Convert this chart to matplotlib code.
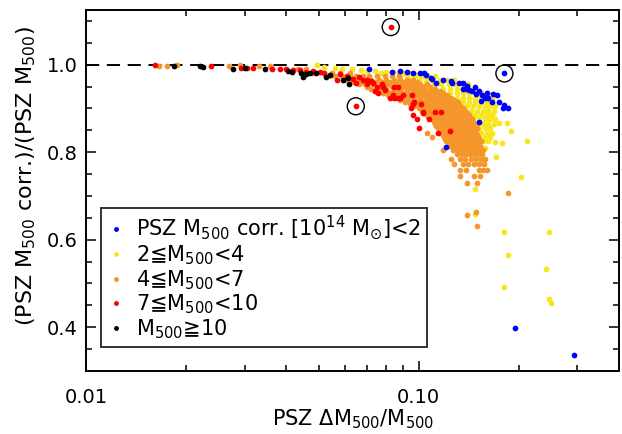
import matplotlib
matplotlib.use("Agg")
import matplotlib.pyplot as plt
from matplotlib.lines import Line2D
from matplotlib.ticker import FixedLocator, FixedFormatter, NullFormatter

plt.rcParams['font.family'] = ['DejaVu Sans']
plt.rcParams['mathtext.fontset'] = 'dejavusans'
plt.rcParams['lines.scale_dashes'] = False

# ---- data: (dM/M, corrected/uncorrected mass ratio) per mass bin ----
black_pts = [(0.0184, 0.996), (0.0220, 0.996), (0.0224, 0.995), (0.0276, 0.991), (0.0300, 0.993),
             (0.0345, 0.991), (0.0404, 0.986), (0.0415, 0.984), (0.0443, 0.982), (0.0449, 0.973),
             (0.0460, 0.978), (0.0471, 0.980), (0.0490, 0.980), (0.0526, 0.973), (0.0540, 0.977),
             (0.0592, 0.966), (0.0612, 0.970), (0.0617, 0.955)]

red_pts = [(0.0161, 1.000), (0.0237, 0.998), (0.0292, 0.993), (0.0305, 0.993), (0.0317, 0.993),
           (0.0362, 0.991), (0.0383, 0.990), (0.0400, 0.990), (0.0419, 0.989), (0.0440, 0.987),
           (0.0460, 0.984), (0.0480, 0.985), (0.0505, 0.984), (0.0520, 0.980), (0.0541, 0.977),
           (0.0567, 0.966), (0.0580, 0.978), (0.0608, 0.975), (0.0634, 0.968), (0.0650, 0.959),
           (0.0660, 0.972), (0.0680, 0.965), (0.0698, 0.964), (0.0700, 0.955), (0.0720, 0.962),
           (0.0728, 0.959), (0.0740, 0.939), (0.0750, 0.948), (0.0753, 0.936), (0.0775, 0.957),
           (0.0780, 0.948), (0.0790, 0.943), (0.0820, 0.925), (0.0837, 0.930), (0.0841, 0.925),
           (0.0842, 0.948), (0.0864, 0.925), (0.0865, 0.948), (0.0877, 0.923), (0.0895, 0.930),
           (0.0951, 0.900), (0.0953, 0.930), (0.0960, 0.884), (0.0960, 0.911), (0.0970, 0.914),
           (0.0986, 0.877), (0.1000, 0.855), (0.1014, 0.911), (0.1028, 0.891), (0.1030, 0.889),
           (0.1072, 0.877), (0.1120, 0.891), (0.1140, 0.843), (0.1170, 0.891), (0.1240, 0.848)]

blue_pts = [(0.0707, 0.991), (0.0832, 0.984), (0.0880, 0.985), (0.0920, 0.983), (0.0960, 0.980),
            (0.1006, 0.982), (0.1035, 0.982), (0.1050, 0.977), (0.1090, 0.970), (0.1100, 0.968),
            (0.1130, 0.959), (0.1180, 0.966), (0.1250, 0.962), (0.1260, 0.959), (0.1320, 0.959),
            (0.1360, 0.959), (0.1360, 0.945), (0.1390, 0.945), (0.1400, 0.952), (0.1420, 0.943),
            (0.1450, 0.940), (0.1480, 0.948), (0.1490, 0.934), (0.1520, 0.941), (0.1540, 0.918),
            (0.1550, 0.930), (0.1580, 0.925), (0.1600, 0.936), (0.1610, 0.925), (0.1660, 0.914),
            (0.1670, 0.932), (0.1720, 0.930), (0.1740, 0.914), (0.1790, 0.902), (0.1800, 0.907),
            (0.1860, 0.902), (0.1520, 0.868), (0.1210, 0.811), (0.1950, 0.398), (0.2920, 0.336)]

yellow_pts = [(0.0494, 1.000), (0.0520, 0.995), (0.0560, 0.993), (0.0590, 0.991), (0.0630, 0.991),
              (0.0670, 0.989), (0.0700, 0.986), (0.0740, 0.985), (0.0770, 0.982), (0.0800, 0.984),
              (0.0837, 0.984), (0.0870, 0.982), (0.0900, 0.980), (0.0940, 0.980), (0.0980, 0.977),
              (0.1740, 0.866), (0.1840, 0.866), (0.1900, 0.848), (0.1660, 0.880), (0.1620, 0.893),
              (0.1690, 0.823), (0.1780, 0.820), (0.2120, 0.825), (0.1710, 0.789), (0.1450, 0.789),
              (0.2030, 0.743), (0.1480, 0.716), (0.1480, 0.659), (0.1800, 0.618), (0.2460, 0.618),
              (0.1850, 0.566), (0.2410, 0.532), (0.1800, 0.493), (0.2460, 0.464), (0.2490, 0.455)]

yellow_rows = [(0.975, [0.088, 0.092, 0.097, 0.102, 0.107, 0.112]),
               (0.965, [0.095, 0.100, 0.105, 0.110, 0.116, 0.122, 0.128]),
               (0.955, [0.100, 0.105, 0.111, 0.117, 0.123, 0.129, 0.135, 0.141]),
               (0.945, [0.106, 0.112, 0.118, 0.124, 0.130, 0.136, 0.142, 0.148]),
               (0.935, [0.112, 0.118, 0.124, 0.130, 0.136, 0.142, 0.148, 0.154, 0.160]),
               (0.925, [0.118, 0.124, 0.130, 0.136, 0.142, 0.148, 0.154, 0.160, 0.166]),
               (0.915, [0.124, 0.130, 0.136, 0.142, 0.148, 0.154, 0.160, 0.166]),
               (0.905, [0.128, 0.134, 0.140, 0.146, 0.152, 0.158, 0.164, 0.170]),
               (0.895, [0.132, 0.138, 0.144, 0.150, 0.156, 0.162, 0.168]),
               (0.885, [0.136, 0.142, 0.148, 0.154, 0.160, 0.166]),
               (0.875, [0.140, 0.146, 0.152, 0.158, 0.164, 0.170]),
               (0.865, [0.144, 0.150, 0.156, 0.162, 0.168]),
               (0.855, [0.146, 0.152, 0.158, 0.164]),
               (0.845, [0.148, 0.154, 0.160, 0.166]),
               (0.835, [0.152, 0.158, 0.164]),
               (0.825, [0.156, 0.162]),
               (0.810, [0.158])]

orange_pts = [(0.0166, 0.998), (0.0175, 0.998), (0.0188, 1.000), (0.0269, 0.996), (0.0290, 1.000),
              (0.0330, 0.998), (0.0357, 0.998), (0.0433, 0.991), (0.0460, 0.990),
              (0.1850, 0.707), (0.1490, 0.664), (0.1400, 0.657), (0.1500, 0.632)]

orange_rows = [(0.982, [0.048, 0.052, 0.055, 0.058, 0.062]),
               (0.975, [0.056, 0.059, 0.062, 0.065, 0.068, 0.071, 0.075, 0.079, 0.083, 0.087]),
               (0.965, [0.060, 0.063, 0.066, 0.069, 0.072, 0.076, 0.080, 0.084, 0.088, 0.092, 0.096]),
               (0.960, [0.064, 0.068, 0.071, 0.074, 0.078, 0.082, 0.086, 0.090, 0.094, 0.099]),
               (0.955, [0.066, 0.069, 0.073, 0.077, 0.081, 0.085, 0.089, 0.093, 0.097, 0.101, 0.106]),
               (0.950, [0.070, 0.075, 0.079, 0.083, 0.087, 0.091, 0.095, 0.099, 0.103, 0.108]),
               (0.945, [0.072, 0.076, 0.080, 0.084, 0.088, 0.092, 0.096, 0.100, 0.104, 0.108, 0.112]),
               (0.940, [0.074, 0.080, 0.084, 0.088, 0.092, 0.096, 0.100, 0.104, 0.108, 0.112, 0.116]),
               (0.935, [0.078, 0.082, 0.086, 0.090, 0.094, 0.098, 0.102, 0.106, 0.110, 0.114, 0.118]),
               (0.930, [0.081, 0.087, 0.091, 0.095, 0.099, 0.103, 0.107, 0.111, 0.115, 0.119, 0.122]),
               (0.925, [0.085, 0.089, 0.093, 0.097, 0.101, 0.105, 0.109, 0.113, 0.117, 0.121, 0.125]),
               (0.920, [0.088, 0.093, 0.097, 0.101, 0.105, 0.109, 0.113, 0.117, 0.121, 0.125, 0.128]),
               (0.915, [0.091, 0.095, 0.099, 0.103, 0.107, 0.111, 0.115, 0.119, 0.123, 0.127, 0.131]),
               (0.910, [0.094, 0.099, 0.103, 0.107, 0.111, 0.115, 0.119, 0.123, 0.127, 0.131]),
               (0.905, [0.097, 0.101, 0.105, 0.109, 0.113, 0.117, 0.121, 0.125, 0.129, 0.133]),
               (0.900, [0.100, 0.104, 0.108, 0.112, 0.116, 0.120, 0.124, 0.128, 0.132, 0.136]),
               (0.895, [0.102, 0.106, 0.110, 0.114, 0.118, 0.122, 0.126, 0.130, 0.134, 0.138]),
               (0.890, [0.104, 0.108, 0.112, 0.116, 0.120, 0.124, 0.128, 0.132, 0.136, 0.140]),
               (0.885, [0.106, 0.110, 0.114, 0.118, 0.122, 0.126, 0.130, 0.134, 0.138, 0.142]),
               (0.880, [0.107, 0.112, 0.116, 0.120, 0.124, 0.128, 0.132, 0.136, 0.140, 0.143]),
               (0.875, [0.109, 0.113, 0.117, 0.121, 0.125, 0.129, 0.133, 0.137, 0.141, 0.145]),
               (0.870, [0.111, 0.115, 0.119, 0.123, 0.127, 0.131, 0.135, 0.139, 0.143, 0.146]),
               (0.865, [0.112, 0.116, 0.120, 0.124, 0.128, 0.132, 0.136, 0.140, 0.144, 0.148]),
               (0.860, [0.113, 0.117, 0.121, 0.125, 0.129, 0.133, 0.137, 0.141, 0.145, 0.149]),
               (0.855, [0.114, 0.118, 0.122, 0.126, 0.130, 0.134, 0.138, 0.142, 0.146, 0.150]),
               (0.850, [0.116, 0.120, 0.124, 0.128, 0.132, 0.136, 0.140, 0.144, 0.148]),
               (0.845, [0.106, 0.117, 0.121, 0.125, 0.129, 0.133, 0.137, 0.141, 0.145, 0.149]),
               (0.840, [0.118, 0.122, 0.126, 0.130, 0.134, 0.138, 0.142, 0.146, 0.150]),
               (0.835, [0.110, 0.119, 0.123, 0.127, 0.131, 0.135, 0.139, 0.143, 0.147, 0.151]),
               (0.830, [0.120, 0.125, 0.129, 0.133, 0.137, 0.141, 0.145, 0.149, 0.152]),
               (0.825, [0.121, 0.125, 0.130, 0.134, 0.138, 0.142, 0.146, 0.150, 0.154]),
               (0.820, [0.123, 0.128, 0.132, 0.136, 0.140, 0.144, 0.148, 0.152]),
               (0.815, [0.124, 0.129, 0.133, 0.137, 0.141, 0.145, 0.149, 0.153]),
               (0.805, [0.118, 0.127, 0.131, 0.136, 0.140, 0.144, 0.148, 0.152, 0.156]),
               (0.795, [0.130, 0.135, 0.139, 0.143, 0.147, 0.151, 0.155]),
               (0.785, [0.125, 0.133, 0.138, 0.144, 0.149, 0.154, 0.158]),
               (0.772, [0.128, 0.136, 0.141, 0.147, 0.152, 0.157]),
               (0.760, [0.133, 0.139, 0.152, 0.156, 0.160]),
               (0.745, [0.133, 0.147, 0.153]),
               (0.730, [0.140, 0.150])]

# highlighted clusters (drawn with a ring around the dot)
flagged_red = [(0.0824, 1.086), (0.0647, 0.905)]
flagged_blue = [(0.181, 0.980)]

legend_labels = [r'PSZ M$_{500}$ corr. [10$^{14}$ M$_{\odot}$]<2',
                 r'2≦M$_{500}$<4',
                 r'4≦M$_{500}$<7',
                 r'7≦M$_{500}$<10',
                 r'M$_{500}$≧10']
colors = ['#0000ff', '#f5e61e', '#f5962d', '#ff0000', '#000000']

xticks_major = [0.01, 0.1]
xtick_labels = ['0.01', '0.10']
yticks_major = [0.4, 0.6, 0.8, 1.0]
ytick_labels = ['0.4', '0.6', '0.8', '1.0']


def expand(rows, extra):
    xs = [p[0] for p in extra]
    ys = [p[1] for p in extra]
    for y, row in rows:
        xs.extend(row)
        ys.extend([y] * len(row))
    return xs, ys


def split(pts):
    return [p[0] for p in pts], [p[1] for p in pts]


fig = plt.figure(figsize=(6.22, 4.34), dpi=100)
ax = fig.add_axes([86 / 622, 1 - 371 / 434, 533 / 622, 361 / 434])
ax.set_xscale('log')
ax.set_xlim(0.01, 0.4)
ax.set_ylim(0.30, 1.125)

ms = 17
yx, yy = expand(yellow_rows, yellow_pts)
ox, oy = expand(orange_rows, orange_pts)
ax.scatter(yx, yy, s=ms, c=colors[1], linewidths=0, zorder=2)
ax.scatter(ox, oy, s=ms, c=colors[2], linewidths=0, zorder=3)
bx, by = split(blue_pts + flagged_blue)
ax.scatter(bx, by, s=ms, c=colors[0], linewidths=0, zorder=4)
rx, ry = split(red_pts + flagged_red)
ax.scatter(rx, ry, s=ms, c=colors[3], linewidths=0, zorder=5)
kx, ky = split(black_pts)
ax.scatter(kx, ky, s=ms, c=colors[4], linewidths=0, zorder=6)

fx, fy = split(flagged_red + flagged_blue)
ax.scatter(fx, fy, s=150, facecolors='none', edgecolors='black', linewidths=1.0, zorder=7)

ax.axhline(1.0, color='black', lw=1.4, dashes=(9.5, 5.5), zorder=1)

ax.xaxis.set_major_locator(FixedLocator(xticks_major))
ax.xaxis.set_major_formatter(FixedFormatter(xtick_labels))
ax.xaxis.set_minor_locator(FixedLocator([0.02, 0.03, 0.04, 0.05, 0.06, 0.07, 0.08, 0.09, 0.2, 0.3]))
ax.xaxis.set_minor_formatter(NullFormatter())
ax.yaxis.set_major_locator(FixedLocator(yticks_major))
ax.yaxis.set_major_formatter(FixedFormatter(ytick_labels))
ax.yaxis.set_minor_locator(FixedLocator([0.35, 0.45, 0.5, 0.55, 0.65, 0.7, 0.75, 0.85, 0.9, 0.95, 1.05, 1.1]))

ax.tick_params(which='both', direction='in', top=True, right=True, width=1.1, labelsize=14)
ax.tick_params(which='major', length=7)
ax.tick_params(which='minor', length=4)
ax.tick_params(axis='x', which='major', pad=12)
ax.tick_params(axis='y', which='major', pad=6)
for sp in ax.spines.values():
    sp.set_linewidth(1.4)

ax.set_xlabel(r'PSZ ΔM$_{500}$/M$_{500}$', fontsize=15)
ax.set_ylabel(r'(PSZ M$_{500}$ corr.)/(PSZ M$_{500}$)', fontsize=16)
ax.xaxis.set_label_coords(0.5, -0.102)
ax.yaxis.set_label_coords(-0.09, 0.54)

handles = [Line2D([], [], ls='none', marker='o', ms=2.5, mfc=c, mec=c) for c in colors]
leg = ax.legend(handles, legend_labels, loc='lower left', bbox_to_anchor=(0.028, 0.066),
                borderaxespad=0, fontsize=15, frameon=True, fancybox=False,
                handlelength=0.8, handletextpad=0.6, labelspacing=0.05, borderpad=0.3)
leg.get_frame().set_edgecolor('black')
leg.get_frame().set_linewidth(1.4)
leg.set_zorder(10)

fig.savefig('out.png', dpi=100)
